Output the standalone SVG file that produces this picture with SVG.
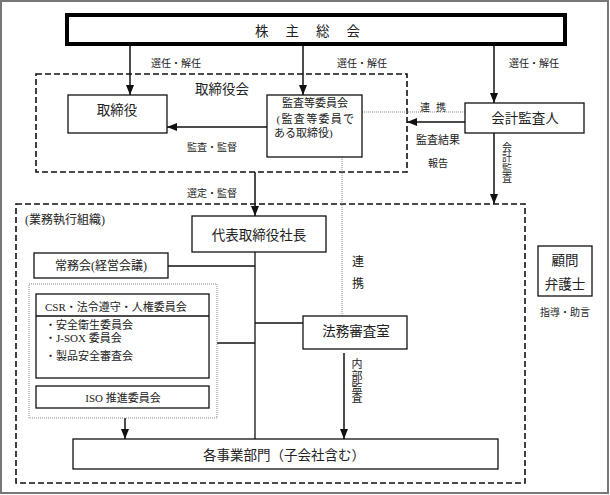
<svg xmlns="http://www.w3.org/2000/svg" width="610" height="495" viewBox="0 0 610 495">
<defs>
<style>
text{font-family:"Liberation Serif","Noto Sans CJK JP",serif;fill:#222;dominant-baseline:central;text-anchor:middle}
.box{fill:#fff;stroke:#111;stroke-width:1.3}
.dash{fill:none;stroke:#111;stroke-width:1.6;stroke-dasharray:6 3}
.dot{fill:none;stroke:#888;stroke-width:1;stroke-dasharray:1 1}
.ln{fill:none;stroke:#111;stroke-width:1.3}
.ar{fill:none;stroke:#111;stroke-width:1.5;marker-end:url(#ah)}
.s10{font-size:10px}
.s11{font-size:11px}
.s12{font-size:12px}
.s13{font-size:13.5px}
</style>
<marker id="ah" markerUnits="userSpaceOnUse" markerWidth="10" markerHeight="10" viewBox="0 0 10 10" refX="10" refY="5" orient="auto">
<path d="M0,1 L10,5 L0,9 z" fill="#111"/>
</marker>
</defs>
<rect x="0" y="0" width="610" height="495" fill="#fff"/>
<rect x="1" y="1" width="607" height="492" fill="none" stroke="#777" stroke-width="2"/>

<g id="board-area">
<rect class="dash" x="36" y="74" width="371" height="98"/>
<text class="s13" x="222" y="89">取締役会</text>
</g>
<g id="exec-area">
<rect class="dash" x="16" y="204" width="509" height="279"/>
<text class="s12" x="25" y="220" style="text-anchor:start">(業務執行組織)</text>
</g>

<g id="connectors">
<line class="ar" x1="130" y1="45" x2="130" y2="95"/>
<line class="ar" x1="303" y1="45" x2="303" y2="95"/>
<line class="ar" x1="494" y1="45" x2="494" y2="103"/>
<line class="ar" x1="267" y1="127" x2="167" y2="127"/>
<line class="dot" x1="362" y1="112" x2="465" y2="112" stroke-width="1.5"/>
<line class="ar" x1="465" y1="122" x2="407" y2="122"/>
<line class="ar" x1="494" y1="133" x2="494" y2="204"/>
<line class="ar" x1="255" y1="172" x2="255" y2="216"/>
<line class="dot" x1="342" y1="157" x2="342" y2="316"/>
<line class="ln" x1="255" y1="252" x2="255" y2="439"/>
<line class="ln" x1="168" y1="266" x2="255" y2="266"/>
<line class="ln" x1="255" y1="323" x2="303" y2="323"/>
<line class="ln" x1="217" y1="343" x2="255" y2="343"/>
<line class="ar" x1="125" y1="418" x2="125" y2="439"/>
<line class="ar" x1="344" y1="353" x2="344" y2="439"/>
<g id="connector-labels">
<text class="s10" x="176" y="63">選任・解任</text>
<text class="s10" x="362" y="63">選任・解任</text>
<text class="s10" x="534" y="63">選任・解任</text>
<text class="s10" x="212" y="147">監査・監督</text>
<text class="s10" x="436" y="107" style="letter-spacing:6px">連携</text>
<text class="s11" x="438" y="140">監査結果</text>
<text class="s10" x="438" y="163">報告</text>
<text class="s10" x="507"><tspan x="507" y="147">会</tspan><tspan x="507" y="157">計</tspan><tspan x="507" y="168">監</tspan><tspan x="507" y="178">査</tspan></text>
<text class="s10" x="212" y="193">選定・監督</text>
<text class="s12" x="358"><tspan x="358" y="262">連</tspan><tspan x="358" y="284">携</tspan></text>
<text class="s11" x="357"><tspan x="357" y="364">内</tspan><tspan x="357" y="376">部</tspan><tspan x="357" y="387">監</tspan><tspan x="357" y="398">査</tspan></text>
<text class="s10" x="565" y="312">指導・助言</text>
</g>
</g>

<g id="shareholders">
<rect x="67" y="15" width="498" height="29" fill="#fff" stroke="#000" stroke-width="4"/>
<text class="s13" x="316" y="31" style="letter-spacing:17px">株主総会</text>
</g>
<g id="directors">
<rect class="box" x="68" y="95" width="99" height="38"/>
<text class="s13" x="117" y="110">取締役</text>
</g>
<g id="audit-committee">
<rect class="box" x="267" y="95" width="95" height="62"/>
<text class="s11" x="315" y="103">監査等委員会</text>
<text class="s11" x="316" y="119" style="letter-spacing:1.3px">(監査等委員で</text>
<text class="s11" x="274" y="133" style="text-anchor:start">ある取締役)</text>
</g>
<g id="accounting-auditor">
<rect class="box" x="465" y="103" width="119" height="30"/>
<text class="s13" x="525" y="118">会計監査人</text>
</g>
<g id="president">
<rect class="box" x="192" y="216" width="134" height="36"/>
<text class="s13" x="259" y="235">代表取締役社長</text>
</g>
<g id="executive-meeting">
<rect class="box" x="34" y="253" width="134" height="25"/>
<text class="s12" x="101" y="266">常務会(経営会議)</text>
</g>
<g id="committees">
<rect class="dot" x="29" y="284" width="188" height="134"/>
<rect class="box" x="36" y="294" width="173" height="84"/>
<line class="ln" x1="36" y1="316" x2="209" y2="316"/>
<text class="s11" x="45" y="307" style="text-anchor:start">CSR・法令遵守・人権委員会</text>
<text class="s11" x="45" y="325" style="text-anchor:start">・安全衛生委員会</text>
<text class="s11" x="45" y="338" style="text-anchor:start">・J-SOX 委員会</text>
<text class="s11" x="45" y="356" style="text-anchor:start">・製品安全審査会</text>
<rect class="box" x="36" y="386" width="173" height="22"/>
<text class="s11" x="123" y="398">ISO 推進委員会</text>
</g>
<g id="legal-review">
<rect class="box" x="303" y="316" width="104" height="33"/>
<text class="s13" x="356" y="331">法務審査室</text>
</g>
<g id="business-units">
<rect class="box" x="73" y="439" width="425" height="30"/>
<text class="s13" x="284" y="455">各事業部門（子会社含む）</text>
</g>
<g id="legal-advisor">
<rect class="box" x="538" y="246" width="54" height="50"/>
<text class="s13" x="565" y="260">顧問</text>
<text class="s13" x="565" y="284">弁護士</text>
</g>
</svg>
